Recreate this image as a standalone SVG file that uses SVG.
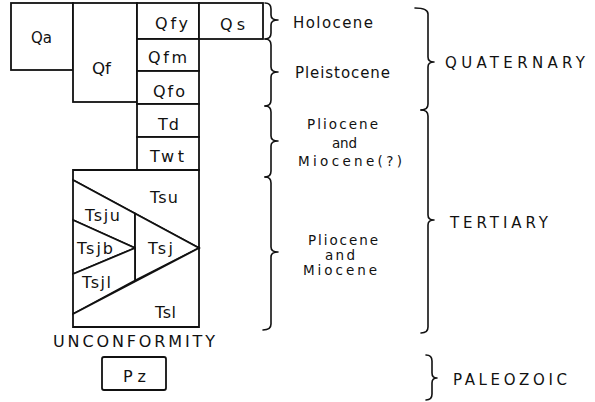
<svg xmlns="http://www.w3.org/2000/svg" width="595" height="402" viewBox="0 0 595 402">
<style>
.u{fill:#fff;stroke:#111;stroke-width:1.8;stroke-linejoin:miter}
.t{font-family:"DejaVu Sans","Liberation Sans",sans-serif;font-size:16px;fill:#111}
.m{font-size:15px}
.s{font-size:13.5px}
.b{fill:none;stroke:#111;stroke-width:1.6;stroke-linecap:round;stroke-linejoin:round}
</style>
<rect width="595" height="402" fill="#fff"/>
<g id="Qa"><rect class="u" x="11" y="3" width="62" height="67"/><text class="t" x="31" y="43" textLength="21" lengthAdjust="spacingAndGlyphs">Qa</text></g>
<g id="Qf"><rect class="u" x="73" y="3" width="64" height="99"/><text class="t" x="92" y="74" textLength="19" lengthAdjust="spacingAndGlyphs">Qf</text></g>
<g id="Qfy"><rect class="u" x="137" y="3" width="62" height="36"/><text class="t" x="155" y="29" textLength="33" lengthAdjust="spacing">Qfy</text></g>
<g id="Qs"><rect class="u" x="199" y="3" width="64" height="36"/><text class="t" x="220" y="30" textLength="25" lengthAdjust="spacing">Qs</text></g>
<g id="Qfm"><rect class="u" x="137" y="39" width="62" height="32"/><text class="t" x="148" y="63" textLength="39" lengthAdjust="spacing">Qfm</text></g>
<g id="Qfo"><rect class="u" x="137" y="71" width="62" height="33"/><text class="t" x="153" y="97" textLength="32" lengthAdjust="spacing">Qfo</text></g>
<g id="Td"><rect class="u" x="137" y="104" width="62" height="33"/><text class="t" x="158" y="130" textLength="21" lengthAdjust="spacing">Td</text></g>
<g id="Twt"><rect class="u" x="137" y="137" width="62" height="33"/><text class="t" x="150" y="162" textLength="34" lengthAdjust="spacing">Twt</text></g>
<g id="Tsu"><polygon class="u" points="73,170 199,170 199,248 73,180"/><text class="t" x="150" y="203" textLength="28" lengthAdjust="spacing">Tsu</text></g>
<g id="Tsju"><polygon class="u" points="73,180 135,213.5 135,248 73,220"/><text class="t" x="85" y="221" textLength="35" lengthAdjust="spacing">Tsju</text></g>
<g id="Tsjb"><polygon class="u" points="73,220 135,248 73,274"/><text class="t" x="77" y="254" textLength="36" lengthAdjust="spacing">Tsjb</text></g>
<g id="Tsj"><polygon class="u" points="135,213.5 199,248 135,280.5"/><text class="t" x="148" y="254" textLength="25" lengthAdjust="spacing">Tsj</text></g>
<g id="Tsjl"><polygon class="u" points="73,274 135,248 135,280.5 73,314"/><text class="t" x="82" y="288" textLength="29" lengthAdjust="spacing">Tsjl</text></g>
<g id="Tsl"><polygon class="u" points="73,314 199,248 199,327 73,327"/><text class="t" x="155" y="318" textLength="21" lengthAdjust="spacing">Tsl</text></g>
<g id="unconformity"><text class="t" x="53" y="347" textLength="162" lengthAdjust="spacing">UNCONFORMITY</text></g>
<g id="Pz"><rect class="u" x="102" y="357" width="64" height="33" rx="2"/><text class="t" x="123" y="382" textLength="23" lengthAdjust="spacing">Pz</text></g>
<g id="connectors">
<path class="b" d="M265,3 Q271,3 271,9 L271,15 Q271,20 278,20 Q271,20 271,25 L271,33 Q271,39 265,39"/>
<path class="b" d="M265,39 Q271,39 271,45 L271,67 Q271,72 278,72 Q271,72 271,77 L271,100 Q271,106 265,106"/>
<path class="b" d="M265,106 Q271,106 271,112 L271,136 Q271,141 278,141 Q271,141 271,146 L271,171 Q271,177 265,177"/>
<path class="b" d="M265,177 Q271,177 271,183 L271,247 Q271,252 278,252 Q271,252 271,257 L271,324 Q271,330 263,330"/>
<path class="b" d="M415,8 Q428,8 428,14 L428,57 Q428,62 434,62 Q428,62 428,67 L428,104 Q428,110 421,110"/>
<path class="b" d="M421,110 Q428,110 428,116 L428,215 Q428,220 434,220 Q428,220 428,225 L428,327 Q428,333 421,333"/>
<path class="b" d="M426,355 Q432,355 432,361 L432,373 Q432,378 437,378 Q432,378 432,383 L432,394 Q432,400 426,400"/>
</g>
<g id="labels">
<text class="t m" x="293" y="28" textLength="80" lengthAdjust="spacing">Holocene</text>
<text class="t m" x="295" y="78" textLength="95" lengthAdjust="spacing">Pleistocene</text>
<text class="t s" x="307" y="129" textLength="71" lengthAdjust="spacing">Pliocene</text>
<text class="t s" x="332" y="148" textLength="25" lengthAdjust="spacing">and</text>
<text class="t s" x="298" y="166" textLength="104" lengthAdjust="spacing">Miocene(?)</text>
<text class="t s" x="308" y="245" textLength="70" lengthAdjust="spacing">Pliocene</text>
<text class="t s" x="325" y="260" textLength="30" lengthAdjust="spacing">and</text>
<text class="t s" x="303" y="275" textLength="74" lengthAdjust="spacing">Miocene</text>
<text class="t m" x="445" y="68" textLength="140" lengthAdjust="spacing">QUATERNARY</text>
<text class="t m" x="450" y="228" textLength="98" lengthAdjust="spacing">TERTIARY</text>
<text class="t m" x="453" y="385" textLength="114" lengthAdjust="spacing">PALEOZOIC</text>
</g>
</svg>
